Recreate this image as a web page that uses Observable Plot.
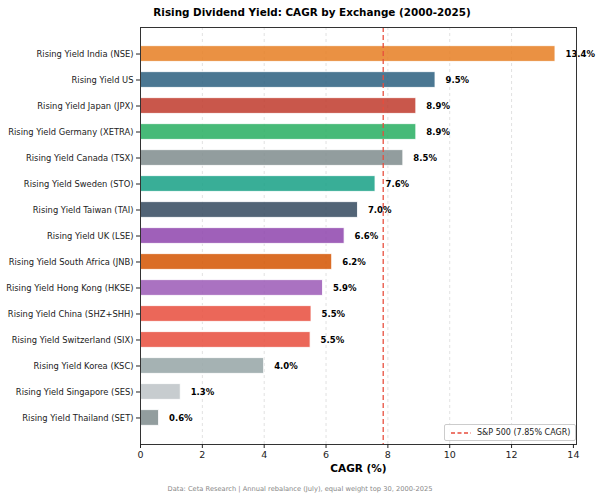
<!DOCTYPE html>
<html>
<head>
<meta charset="utf-8">
<script src="https://cdn.jsdelivr.net/npm/d3@7"></script>
<script src="https://cdn.jsdelivr.net/npm/@observablehq/plot@0.6"></script>
<style>
  body { margin: 0; background: #fff; font-family: "DejaVu Sans", sans-serif; }
  #wrap { position: relative; width: 600px; height: 499px; }
  #title { height: 22px; line-height: 25px; text-align: center; font-weight: bold; font-size: 10.4px; color: #000; padding-left: 24px; }
  #caption { text-align: center; font-size: 6.7px; color: #888; margin-top: 4px; }
  #legend { position: absolute; left: 444px; top: 424px; width: 132px; height: 17px; border: 1px solid #ccc; border-radius: 2px; background: rgba(255,255,255,0.85); font-size: 8px; color: #222; display: flex; align-items: center; box-sizing: border-box; }
  #legend svg { margin: 0 6px 0 6px; }
</style>
</head>
<body>
<div id="wrap">
  <div id="title">Rising Dividend Yield: CAGR by Exchange (2000-2025)</div>
  <div id="chart"></div>
  <div id="caption">Data: Ceta Research | Annual rebalance (July), equal weight top 30, 2000-2025</div>
  <div id="legend"><svg width="20" height="6"><line x1="0" y1="3" x2="20" y2="3" stroke="#e74c3c" stroke-width="1.5" stroke-dasharray="4,2.5"/></svg><span>S&amp;P 500 (7.85% CAGR)</span></div>
</div>
<script>
const exchanges = [
  "Rising Yield India (NSE)",
  "Rising Yield US",
  "Rising Yield Japan (JPX)",
  "Rising Yield Germany (XETRA)",
  "Rising Yield Canada (TSX)",
  "Rising Yield Sweden (STO)",
  "Rising Yield Taiwan (TAI)",
  "Rising Yield UK (LSE)",
  "Rising Yield South Africa (JNB)",
  "Rising Yield Hong Kong (HKSE)",
  "Rising Yield China (SHZ+SHH)",
  "Rising Yield Switzerland (SIX)",
  "Rising Yield Korea (KSC)",
  "Rising Yield Singapore (SES)",
  "Rising Yield Thailand (SET)"
];
const cagr = [13.42, 9.54, 8.92, 8.92, 8.5, 7.6, 7.03, 6.6, 6.2, 5.9, 5.53, 5.5, 4.0, 1.3, 0.6];
const labels = ["13.4%", "9.5%", "8.9%", "8.9%", "8.5%", "7.6%", "7.0%", "6.6%", "6.2%", "5.9%", "5.5%", "5.5%", "4.0%", "1.3%", "0.6%"];
const colors = ["#e67e22", "#2c5f7f", "#c0392b", "#27ae60", "#7f8c8d", "#16a085", "#34495e", "#8e44ad", "#d35400", "#9b59b6", "#e74c3c", "#e74c3c", "#95a5a6", "#bdc3c7", "#7f8c8d"];
const benchmark = 7.85;
const xTicks = [0, 2, 4, 6, 8, 10, 12, 14];

const data = exchanges.map((name, i) => ({name, value: cagr[i], label: labels[i], color: colors[i]}));

const chart = Plot.plot({
  width: 600,
  height: 459,
  marginTop: 5,
  marginBottom: 37,
  marginLeft: 140,
  marginRight: 24,
  style: {fontFamily: "DejaVu Sans, sans-serif", color: "#222", background: "#fff"},
  x: {domain: [0, 14.1]},
  y: {domain: exchanges, paddingInner: 0.4, paddingOuter: 0.72, round: false},
  marks: [
    Plot.gridX(xTicks.slice(1, -1), {stroke: "#ccc", strokeOpacity: 1, strokeDasharray: "3,3", strokeWidth: 0.6}),
    Plot.barX(data, {x: "value", y: "name", fill: "color", fillOpacity: 0.85, stroke: "white", strokeWidth: 0.8}),
    Plot.ruleX([benchmark], {stroke: "#e74c3c", strokeWidth: 1.5, strokeDasharray: "5,3", strokeOpacity: 0.85}),
    Plot.text(data, {x: "value", y: "name", text: "label", dx: 10, textAnchor: "start", fontWeight: "bold", fontSize: 8.5, fill: "#000"}),
    Plot.frame({stroke: "#333", strokeWidth: 1}),
    Plot.axisY({tickSize: 4, tickPadding: 3, fontSize: 8.35, label: null}),
    Plot.axisX({ticks: xTicks, tickSize: 4, tickPadding: 3, fontSize: 9.5, label: null, tickFormat: d => d}),
    Plot.text(["CAGR (%)"], {frameAnchor: "bottom", dy: 27, fontWeight: "bold", fontSize: 10.5, fill: "#000"})
  ]
});
document.getElementById("chart").appendChild(chart);
</script>
</body>
</html>
